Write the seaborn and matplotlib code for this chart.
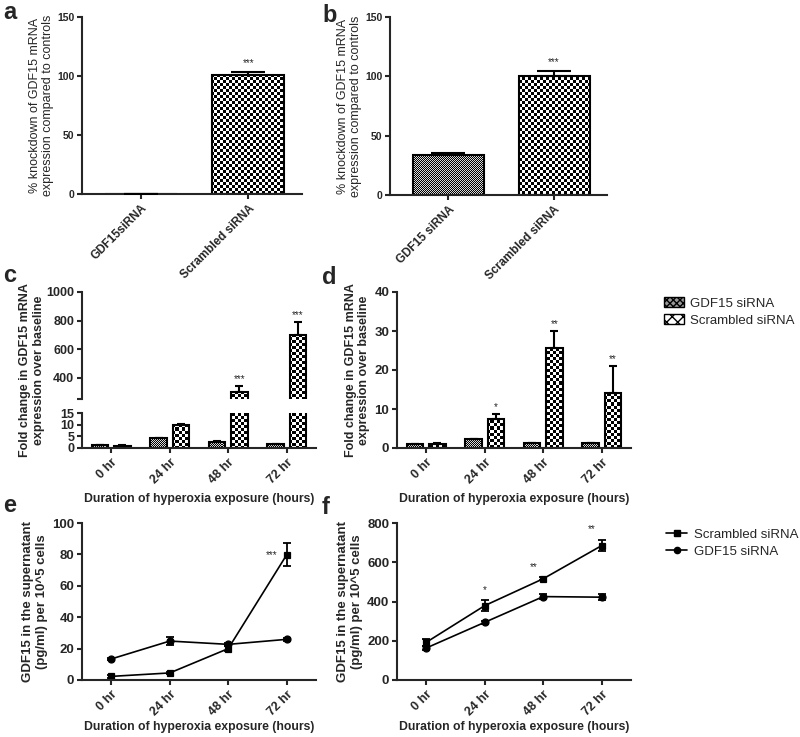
import numpy as np
import pandas as pd
import matplotlib
matplotlib.use("Agg")
import matplotlib.pyplot as plt
import seaborn as sns
from matplotlib.patches import Patch
from matplotlib.lines import Line2D

# Data
knock_labels_a = ["GDF15siRNA", "Scrambled siRNA"]
knock_vals_a = [0.4, 100.5]
knock_err_a = [0.0, 2.5]

knock_labels_b = ["GDF15 siRNA", "Scrambled siRNA"]
knock_vals_b = [33.6, 100.2]
knock_err_b = [1.4, 4.0]

hours = ["0 hr", "24 hr", "48 hr", "72 hr"]
groups = ["GDF15 siRNA", "Scrambled siRNA"]

fold_gdf_c = [1.2, 4.2, 2.7, 1.8]
fold_gdf_err_c = [0.1, 0.2, 0.2, 0.1]
fold_scr_c = [1.0, 10.0, 298, 697]
fold_scr_err_c = [0.1, 0.3, 41, 93]
stars_c = ["", "", "***", "***"]

fold_gdf_d = [1.0, 2.3, 1.2, 1.2]
fold_gdf_err_d = [0.1, 0.1, 0.1, 0.1]
fold_scr_d = [1.1, 7.5, 25.7, 14.2]
fold_scr_err_d = [0.1, 1.2, 4.3, 6.7]
stars_d = ["", "*", "**", "**"]

sup_scr_e = [2.3, 4.5, 20.0, 79.8]
sup_scr_err_e = [1.0, 0.8, 1.5, 7.5]
sup_gdf_e = [13.4, 24.8, 22.7, 25.9]
sup_gdf_err_e = [0.8, 2.6, 1.0, 0.8]

sup_scr_f = [192, 379, 516, 685]
sup_scr_err_f = [17, 27, 8, 30]
sup_gdf_f = [163, 294, 425, 422]
sup_gdf_err_f = [8, 8, 14, 14]
stars_f = ["", "*", "**", "**"]

sns.set_style("ticks")
plt.rcParams["font.family"] = ["Liberation Sans", "DejaVu Sans"]
plt.rcParams["axes.linewidth"] = 1.5
plt.rcParams["xtick.major.width"] = 1.5
plt.rcParams["ytick.major.width"] = 1.5
plt.rcParams["xtick.major.size"] = 3.5
plt.rcParams["ytick.major.size"] = 3.5
plt.rcParams["xtick.major.pad"] = 2.5
plt.rcParams["ytick.major.pad"] = 2

fig = plt.figure(figsize=(8, 7.37), dpi=100)
W, H = 800, 737


def box(x0, y_top, x1, y_bot):
    return [x0 / W, 1 - y_bot / H, (x1 - x0) / W, (y_bot - y_top) / H]


def letter(x, y_base, s):
    fig.text(x / W, 1 - y_base / H, s, fontsize=17, fontweight="bold",
             va="baseline", ha="left")


def checker(ax, patches, cell, light):
    pos = ax.get_position()
    w = int(round(pos.width * W))
    h = int(round(pos.height * H))
    yy, xx = np.mgrid[0:h, 0:w]
    board = np.where((xx // cell + yy // cell) % 2 == 0, 0.0, light)
    for p in patches:
        im = ax.imshow(board, cmap="gray", vmin=0, vmax=1, extent=(0, 1, 0, 1),
                       transform=ax.transAxes, interpolation="nearest",
                       aspect="auto", zorder=1)
        im.set_clip_path(p)
        p.set_facecolor("none")
        p.set_edgecolor("black")
        p.set_linewidth(1.5)
        p.set_zorder(2)


def style(ax, ysize=9.5, xsize=9):
    sns.despine(ax=ax)
    ax.tick_params(axis="y", labelsize=ysize)
    ax.tick_params(axis="x", labelsize=xsize)
    for lab in ax.get_xticklabels() + ax.get_yticklabels():
        lab.set_fontweight("bold")


def rotate(ax):
    for lab in ax.get_xticklabels():
        lab.set_rotation(45)
        lab.set_ha("right")
        lab.set_rotation_mode("anchor")


def stars(ax, xs, tops, marks, dy=1.5):
    for x, t, s in zip(xs, tops, marks):
        if s:
            ax.annotate(s, (x, t), xytext=(0, dy), textcoords="offset points",
                        ha="center", va="bottom", fontsize=7)


# ---- panels a and b: knockdown ----
def knock_panel(rect, labels, vals, errs):
    ax = fig.add_axes(rect)
    df = pd.DataFrame({"group": labels, "value": vals})
    sns.barplot(data=df, x="group", y="value", width=0.67, color="white",
                ax=ax, errorbar=None)
    pats = list(ax.patches)
    checker(ax, pats[:1], 1, 0.85)
    checker(ax, pats[1:], 3, 1.0)
    xs = [p.get_x() + p.get_width() / 2 for p in pats]
    ax.errorbar(xs, vals, yerr=[np.zeros(len(errs)), errs], fmt="none",
                ecolor="black", elinewidth=1.5, capsize=12, capthick=1.5, zorder=3)
    stars(ax, xs, np.array(vals) + np.array(errs), ["", "***"], dy=3)
    ax.set_xlim(-0.55, 1.5)
    ax.set_ylim(0, 150)
    ax.set_yticks([0, 50, 100, 150])
    ax.set_xlabel("")
    ax.set_ylabel("% knockdown of GDF15 mRNA\nexpression compared to controls",
                  fontsize=9, labelpad=2)
    style(ax, 7.5, 8.5)
    rotate(ax)
    return ax


knock_panel(box(82, 17, 302, 194), knock_labels_a, knock_vals_a, knock_err_a)
knock_panel(box(390, 17, 607, 195), knock_labels_b, knock_vals_b, knock_err_b)
letter(3, 19, "a")
letter(322, 22, "b")


# ---- panels c and d: fold change bars ----
def fold_bars(ax, gdf, gdf_err, scr, scr_err):
    df = pd.DataFrame({
        "hour": hours * 2,
        "group": [groups[0]] * 4 + [groups[1]] * 4,
        "value": list(gdf) + list(scr),
    })
    sns.barplot(data=df, x="hour", y="value", hue="group", hue_order=groups,
                palette=["white", "white"], width=0.76, gap=0.26,
                errorbar=None, legend=False, ax=ax)
    pats = list(ax.patches)
    checker(ax, pats[:4], 1, 0.85)
    checker(ax, pats[4:8], 3, 1.0)
    xs_g = [p.get_x() + p.get_width() / 2 for p in pats[:4]]
    xs_s = [p.get_x() + p.get_width() / 2 for p in pats[4:8]]
    for xs, v, e in [(xs_g, gdf, gdf_err), (xs_s, scr, scr_err)]:
        ax.errorbar(xs, v, yerr=[np.zeros(4), e], fmt="none", ecolor="black",
                    elinewidth=1.5, capsize=3, capthick=1.5, zorder=3)
    ax.set_xlim(-0.5, 3.5)
    ax.set_xlabel("")
    ax.set_ylabel("")
    return xs_s


XLAB = "Duration of hyperoxia exposure (hours)"

# c: broken axis
ax_cu = fig.add_axes(box(82, 292, 316, 399))
ax_cl = fig.add_axes(box(82, 413, 316, 448))
xs_c = fold_bars(ax_cu, fold_gdf_c, fold_gdf_err_c, fold_scr_c, fold_scr_err_c)
fold_bars(ax_cl, fold_gdf_c, fold_gdf_err_c, fold_scr_c, fold_scr_err_c)
ax_cu.set_ylim(250, 1000)
ax_cu.set_yticks([250, 400, 600, 800, 1000], ["", "400", "600", "800", "1000"])
ax_cu.set_yticks([250], minor=True)
ax_cu.tick_params(axis="y", which="minor", direction="in", length=3.5, width=1.5)
stars(ax_cu, xs_c, np.array(fold_scr_c) + np.array(fold_scr_err_c), stars_c)
ax_cl.set_ylim(0, 15)
ax_cl.set_yticks([0, 5, 10, 15])
ax_cl.set_yticks([15], minor=True)
ax_cl.tick_params(axis="y", which="minor", direction="in", length=3.5, width=1.5)
style(ax_cu, 9)
ax_cu.spines["bottom"].set_visible(False)
ax_cu.set_xticks([])
style(ax_cl, 9)
rotate(ax_cl)
ax_cl.set_xlabel(XLAB, fontsize=8.8, fontweight="bold", labelpad=5)
fig.text(32 / W, 1 - 370 / H, "Fold change in GDF15 mRNA\nexpression over baseline",
         rotation=90, fontsize=9, fontweight="bold", ha="center", va="center",
         multialignment="center")
letter(3, 282, "c")

# d
ax_d = fig.add_axes(box(397, 292, 631, 448))
xs_d = fold_bars(ax_d, fold_gdf_d, fold_gdf_err_d, fold_scr_d, fold_scr_err_d)
ax_d.set_ylim(0, 40)
ax_d.set_yticks([0, 10, 20, 30, 40])
stars(ax_d, xs_d, np.array(fold_scr_d) + np.array(fold_scr_err_d), stars_d)
style(ax_d)
rotate(ax_d)
ax_d.set_xlabel(XLAB, fontsize=8.8, fontweight="bold", labelpad=5)
ax_d.set_ylabel("Fold change in GDF15 mRNA\nexpression over baseline",
                fontsize=9, fontweight="bold", labelpad=3)
letter(322, 284, "d")

bar_handles = [
    Patch(facecolor="0.6", edgecolor="black", hatch="xxxxx", linewidth=1),
    Patch(facecolor="white", edgecolor="black", hatch="XXX", linewidth=1),
]
fig.legend(bar_handles, groups, loc="center left",
           bbox_to_anchor=(664 / W, 1 - 312 / H), frameon=False, fontsize=9.5,
           handlelength=1.5, handleheight=0.8, labelspacing=0.35, handletextpad=0.5,
           borderaxespad=0, borderpad=0)


# ---- panels e and f: supernatant lines ----
def sup_panel(rect, scr, scr_err, gdf, gdf_err, ylim, yticks):
    ax = fig.add_axes(rect)
    df = pd.DataFrame({
        "hour": hours * 2,
        "group": [groups[1]] * 4 + [groups[0]] * 4,
        "value": list(scr) + list(gdf),
    })
    sns.pointplot(data=df, x="hour", y="value", hue="group",
                  hue_order=[groups[1], groups[0]], palette=["black", "black"],
                  markers=["s", "o"], linestyles=["-", "-"], errorbar=None,
                  markersize=5, linewidth=1.2, legend=False, ax=ax)
    x = np.arange(len(hours))
    for v, e in [(scr, scr_err), (gdf, gdf_err)]:
        ax.errorbar(x, v, yerr=e, fmt="none", ecolor="black", elinewidth=1.3,
                    capsize=3, capthick=1.3, zorder=4)
    ax.set_xlim(-0.5, 3.5)
    ax.set_ylim(*ylim)
    ax.set_yticks(yticks)
    ax.set_ylabel("GDF15 in the supernatant\n(pg/ml) per 10^5 cells",
                  fontsize=9.5, fontweight="bold", labelpad=3)
    ax.set_xlabel(XLAB, fontsize=8.8, fontweight="bold", labelpad=2)
    style(ax)
    rotate(ax)
    return ax


ax_e = sup_panel(box(82, 523, 316, 680), sup_scr_e, sup_scr_err_e, sup_gdf_e,
                 sup_gdf_err_e, (0, 100), [0, 20, 40, 60, 80, 100])
ax_e.annotate("***", (3, sup_scr_e[3]), xytext=(-7, 0), textcoords="offset points",
              ha="right", va="center", fontsize=7)
letter(3, 512, "e")

ax_f = sup_panel(box(397, 523, 631, 680), sup_scr_f, sup_scr_err_f, sup_gdf_f,
                 sup_gdf_err_f, (0, 800), [0, 200, 400, 600, 800])
ax_f.annotate(stars_f[1], (1, sup_scr_f[1] + sup_scr_err_f[1]), xytext=(0, 4),
              textcoords="offset points", ha="center", va="bottom", fontsize=7)
for i in (2, 3):
    ax_f.annotate(stars_f[i], (i, sup_scr_f[i] + sup_scr_err_f[i]), xytext=(-7, 4),
                  textcoords="offset points", ha="center", va="bottom", fontsize=7)
letter(322, 514, "f")

line_handles = [
    Line2D([], [], color="black", marker="s", markersize=4.5, linewidth=1.2),
    Line2D([], [], color="black", marker="o", markersize=4.5, linewidth=1.2),
]
fig.legend(line_handles, [groups[1], groups[0]], loc="center left",
           bbox_to_anchor=(666 / W, 1 - 543 / H), frameon=False, fontsize=9.5,
           handlelength=1.6, labelspacing=0.35, handletextpad=0.5,
           borderaxespad=0, borderpad=0)

fig.savefig("out.png", dpi=100)
